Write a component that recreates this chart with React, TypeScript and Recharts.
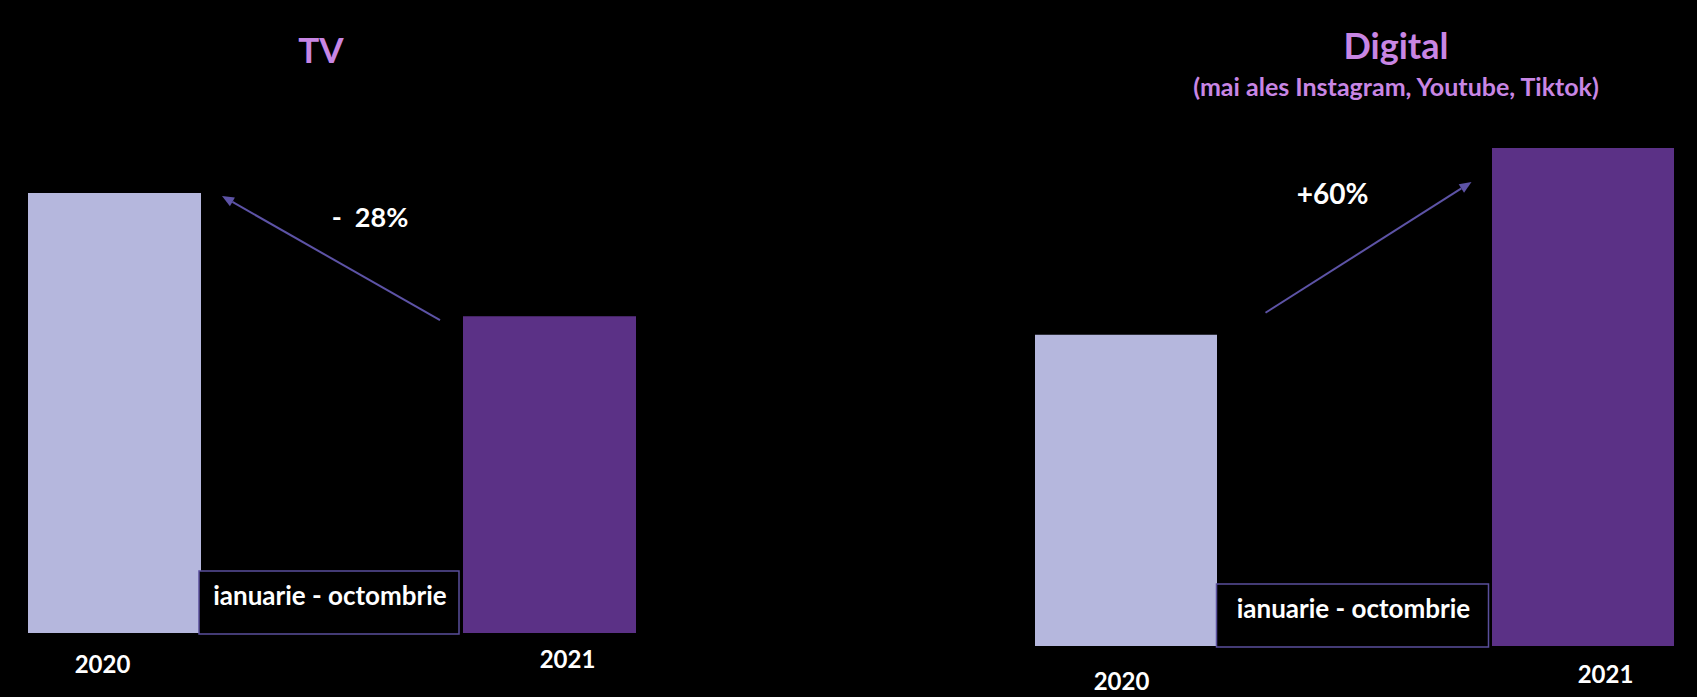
import { Bar, BarChart, Cell, ReferenceLine, XAxis, YAxis } from "recharts";

const years = ["2020", "2021"];
const tvValues = [100, 72];
const digitalValues = [100, 160];
const tvChange = "-  28%";
const digitalChange = "+60%";
const periodLabel = "ianuarie - octombrie";
const tvTitle = "TV";
const digitalTitle = "Digital";
const digitalSubtitle = "(mai ales Instagram, Youtube, Tiktok)";

const barColors = ["#b5b7dd", "#5b3186"];
const arrowColor = "#5d53a6";
const boxColor = "#5a4f9c";
const titleColor = "#c886e4";
const font = "Lato, 'Open Sans', sans-serif";

const tvData = years.map((year, i) => ({ year, value: tvValues[i] }));
const digitalData = years.map((year, i) => ({ year, value: digitalValues[i] }));

type ArrowOpts = {
  fromDx: number;
  fromDy: number;
  toDx: number;
  toDy: number;
  labelDx: number;
  labelDy: number;
  labelSize: number;
  label: string;
};

// arrow between two bar tops, plus the change label
function arrowShape(o: ArrowOpts) {
  return (p: any) => {
    const sx = p.x1 + o.fromDx;
    const sy = p.y1 + o.fromDy;
    const ex = p.x2 + o.toDx;
    const ey = p.y2 + o.toDy;
    const ang = Math.atan2(ey - sy, ex - sx);
    const len = 12;
    const half = 5;
    const bx = ex - len * Math.cos(ang);
    const by = ey - len * Math.sin(ang);
    const pts = [
      [ex, ey],
      [bx + half * Math.sin(ang), by - half * Math.cos(ang)],
      [bx - half * Math.sin(ang), by + half * Math.cos(ang)],
    ]
      .map((q) => q.join(","))
      .join(" ");
    const mx = (sx + ex) / 2;
    const my = (sy + ey) / 2;
    return (
      <g>
        <line x1={sx} y1={sy} x2={bx} y2={by} stroke={arrowColor} strokeWidth={2} />
        <polygon points={pts} fill={arrowColor} />
        <text
          x={mx + o.labelDx}
          y={my + o.labelDy}
          textAnchor="middle"
          dominantBaseline="central"
          fill="#ffffff"
          fontFamily={font}
          fontWeight={700}
          fontSize={o.labelSize}
          style={{ whiteSpace: "pre" }}
        >
          {o.label}
        </text>
      </g>
    );
  };
}

function boxShape(barSize: number, leftPad: number, rightPad: number) {
  return (p: any) => {
    const x = p.x1 + barSize / 2 + leftPad;
    const w = p.x2 - barSize / 2 - rightPad - x;
    const h = 63;
    const bottom = p.y1 + 1;
    return (
      <g>
        <rect
          x={x}
          y={bottom - h}
          width={w}
          height={h}
          fill="#000"
          stroke={boxColor}
          strokeWidth={1.5}
        />
        <text
          x={x + w / 2 + 1}
          y={bottom - 39}
          textAnchor="middle"
          dominantBaseline="central"
          fill="#ffffff"
          fontFamily={font}
          fontWeight={700}
          fontSize={26}
        >
          {periodLabel}
        </text>
      </g>
    );
  };
}

function yearTick(offsets: { dx: number; dy: number }[]) {
  return (p: any) => {
    const o = offsets[p.index] ?? { dx: 0, dy: 0 };
    return (
      <text
        x={p.x + o.dx}
        y={p.y + o.dy}
        textAnchor="middle"
        dominantBaseline="central"
        fill="#ffffff"
        fontFamily={font}
        fontWeight={700}
        fontSize={24}
      >
        {p.payload.value}
      </text>
    );
  };
}

export default function App() {
  return (
    <div
      style={{
        position: "fixed",
        left: 0,
        top: 0,
        width: 1697,
        height: 697,
        background: "#000",
        overflow: "hidden",
        fontFamily: font,
      }}
    >
      <div style={{ position: "absolute", left: -103, top: 0 }}>
        <BarChart
          width={870}
          height={697}
          data={tvData}
          margin={{ top: 193, right: 0, left: 0, bottom: 24 }}
        >
          <XAxis
            dataKey="year"
            height={40}
            axisLine={false}
            tickLine={false}
            tickSize={0}
            tickMargin={0}
            interval={0}
            tick={yearTick([
              { dx: -12, dy: 30 },
              { dx: 18, dy: 25 },
            ])}
          />
          <YAxis hide width={0} domain={[0, 100]} />
          <Bar dataKey="value" barSize={173} isAnimationActive={false}>
            {tvData.map((d, i) => (
              <Cell key={d.year} fill={barColors[i]} />
            ))}
          </Bar>
          <ReferenceLine
            ifOverflow="visible"
            segment={[
              { x: years[0], y: 0 },
              { x: years[1], y: 0 },
            ]}
            shape={boxShape(173, -2, 4)}
          />
          <ReferenceLine
            ifOverflow="visible"
            segment={[
              { x: years[1], y: tvValues[1] },
              { x: years[0], y: tvValues[0] },
            ]}
            shape={arrowShape({
              fromDx: -86.5 - 23,
              fromDy: 4,
              toDx: 86.5 + 21,
              toDy: 3,
              labelDx: 39,
              labelDy: -42,
              labelSize: 27,
              label: tvChange,
            })}
          />
        </BarChart>
      </div>

      <div style={{ position: "absolute", left: 897, top: 0 }}>
        <BarChart
          width={914}
          height={697}
          data={digitalData}
          margin={{ top: 148, right: 0, left: 0, bottom: 11 }}
        >
          <XAxis
            dataKey="year"
            height={40}
            axisLine={false}
            tickLine={false}
            tickSize={0}
            tickMargin={0}
            interval={0}
            tick={yearTick([
              { dx: -4, dy: 34 },
              { dx: 23, dy: 27 },
            ])}
          />
          <YAxis hide width={0} domain={[0, 160]} />
          <Bar dataKey="value" barSize={182} isAnimationActive={false}>
            {digitalData.map((d, i) => (
              <Cell key={d.year} fill={barColors[i]} />
            ))}
          </Bar>
          <ReferenceLine
            ifOverflow="visible"
            segment={[
              { x: years[0], y: 0 },
              { x: years[1], y: 0 },
            ]}
            shape={boxShape(182, 0, 3)}
          />
          <ReferenceLine
            ifOverflow="visible"
            segment={[
              { x: years[0], y: digitalValues[0] },
              { x: years[1], y: digitalValues[1] },
            ]}
            shape={arrowShape({
              fromDx: 91 + 49,
              fromDy: -22,
              toDx: -91 - 20,
              toDy: 34,
              labelDx: -36,
              labelDy: -54,
              labelSize: 28,
              label: digitalChange,
            })}
          />
        </BarChart>
      </div>

      <div
        style={{
          position: "absolute",
          left: 221,
          width: 200,
          top: 32,
          textAlign: "center",
          color: titleColor,
          fontWeight: 700,
          fontSize: 35,
          lineHeight: "35px",
        }}
      >
        {tvTitle}
      </div>
      <div
        style={{
          position: "absolute",
          left: 1146,
          width: 500,
          top: 27,
          textAlign: "center",
          color: titleColor,
          fontWeight: 700,
          fontSize: 36,
          lineHeight: "36px",
        }}
      >
        {digitalTitle}
      </div>
      <div
        style={{
          position: "absolute",
          left: 1096,
          width: 600,
          top: 74,
          textAlign: "center",
          color: titleColor,
          fontWeight: 700,
          fontSize: 25,
          lineHeight: "25px",
        }}
      >
        {digitalSubtitle}
      </div>
    </div>
  );
}
